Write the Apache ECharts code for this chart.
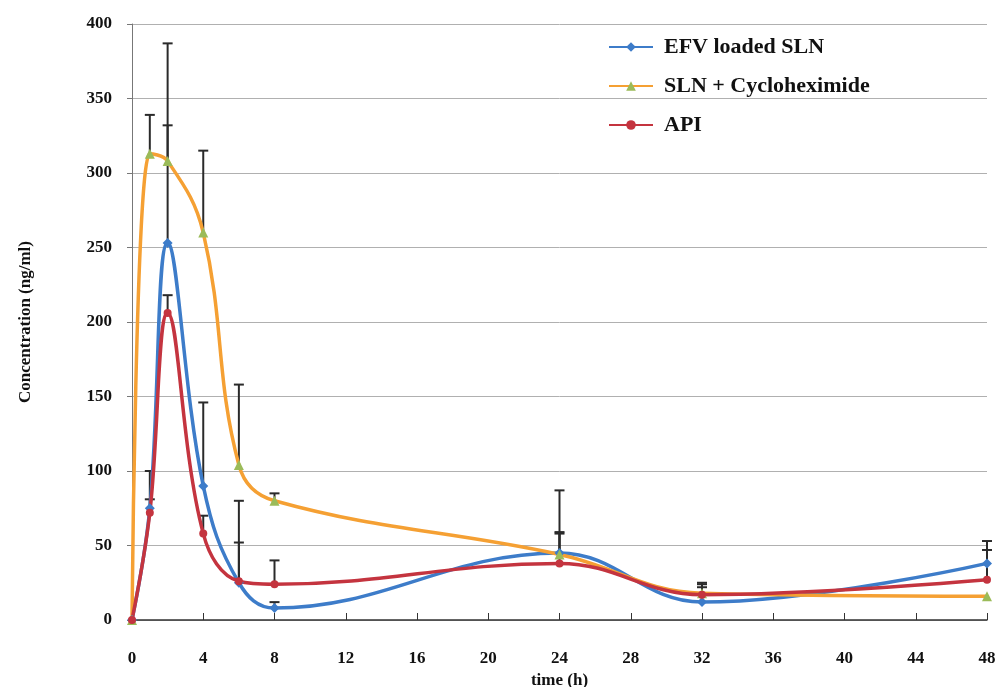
<!DOCTYPE html>
<html><head><meta charset="utf-8">
<script src="https://cdn.jsdelivr.net/npm/echarts@6/dist/echarts.min.js"></script>
<style>html,body{margin:0;padding:0;background:#fff}#c{width:996px;height:687px}</style>
</head><body><div id="c"></div>
<script>
var times = [0, 1, 2, 4, 6, 8, 24, 32, 48];
var xTicks = [0,4,8,12,16,20,24,28,32,36,40,44,48];
var efv = [0, 75, 253, 90, 25, 8, 45, 12, 38];
var efvErr = [0, 25, 134, 56, 55, 4, 42, 10, 15];
var cyclo = [0, 313, 308, 260, 104, 80, 44, 18, 16];
var cycloErr = [0, 26, 24, 55, 54, 5, 14, 6, 0];
var api = [0, 72, 206, 58, 26, 24, 38, 17, 27];
var apiErr = [0, 9, 12, 12, 26, 16, 21, 8, 20];
var names = ['EFV loaded SLN', 'SLN + Cycloheximide', 'API'];
var colors = ['#3d7cc9', '#f5a033', '#c4343f'];

function pairs(v){ return times.map(function(t,i){ return [t, v[i]]; }); }
function errData(v,e){ return times.map(function(t,i){ return [t, v[i], v[i]+e[i]]; }).filter(function(d){return d[2]>d[1];}); }
function errSeries(v,e){
  return {
    type:'custom', silent:true, z:1,
    data: errData(v,e),
    renderItem: function(params, api){
      var p0 = api.coord([api.value(0), api.value(1)]);
      var p1 = api.coord([api.value(0), api.value(2)]);
      var w = 5;
      return {type:'group', children:[
        {type:'line', shape:{x1:p0[0],y1:p0[1],x2:p1[0],y2:p1[1]}, style:{stroke:'#2a2a2a', lineWidth:2}},
        {type:'line', shape:{x1:p1[0]-w,y1:p1[1],x2:p1[0]+w,y2:p1[1]}, style:{stroke:'#2a2a2a', lineWidth:2}}
      ]};
    }
  };
}
var font = 'Liberation Serif';
var chart = echarts.init(document.getElementById('c'));
chart.setOption({
  animation:false,
  backgroundColor:'#fff',
  grid:{left:132, right:9, top:24, bottom:67, outerBoundsMode:'none', containLabel:false},
  legend:{
    data:names,
    orient:'vertical', left:603, top:31, itemGap:17, itemWidth:44, itemHeight:12,
    textStyle:{fontFamily:font, fontWeight:'bold', fontSize:22, color:'#111', padding:[0,0,0,6]}
  },
  xAxis:{
    type:'value', min:0, max:48, interval:4,
    name:'time (h)', nameLocation:'middle', nameGap:51,
    nameTextStyle:{fontFamily:font, fontWeight:'bold', fontSize:17, color:'#111'},
    axisLine:{lineStyle:{color:'#333', width:1.5}},
    axisTick:{inside:true, length:7, lineStyle:{color:'#333'}},
    axisLabel:{fontFamily:font, fontWeight:'bold', fontSize:17, color:'#111', margin:30},
    splitLine:{show:false}
  },
  yAxis:{
    type:'value', min:0, max:400, interval:50,
    name:'Concentration (ng/ml)', nameLocation:'middle', nameGap:98,
    nameTextStyle:{fontFamily:font, fontWeight:'bold', fontSize:17, color:'#111'},
    axisLine:{show:true, lineStyle:{color:'#777', width:1}},
    axisTick:{show:true, length:5, lineStyle:{color:'#777'}},
    axisLabel:{fontFamily:font, fontWeight:'bold', fontSize:17, color:'#111', margin:20},
    splitLine:{lineStyle:{color:'#b0b0b0', width:1}}
  },
  series:[
    errSeries(efv, efvErr),
    errSeries(cyclo, cycloErr),
    errSeries(api, apiErr),
    {name:names[0], type:'line', smooth:0.4, data:pairs(efv), symbol:'diamond', symbolSize:10, z:3,
     lineStyle:{color:colors[0], width:3.5}, itemStyle:{color:colors[0]}},
    {name:names[1], type:'line', smooth:0.4, data:pairs(cyclo), symbol:'triangle', symbolSize:10, z:3,
     lineStyle:{color:colors[1], width:3.5}, itemStyle:{color:'#9bbb59'}},
    {name:names[2], type:'line', smooth:0.4, data:pairs(api), symbol:'circle', symbolSize:8, z:3,
     lineStyle:{color:colors[2], width:3.5}, itemStyle:{color:colors[2]}}
  ]
});
</script></body></html>
